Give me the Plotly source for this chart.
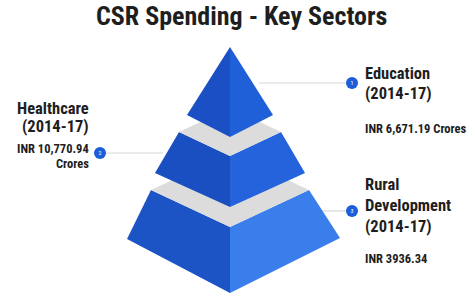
import plotly.graph_objects as go

# ---- data (text content) ----
title_text = "CSR Spending - Key Sectors"
sectors = ["Education", "Healthcare", "Rural Development"]
periods = ["(2014-17)", "(2014-17)", "(2014-17)"]
amounts = ["INR 6,671.19 Crores", "INR 10,770.94 Crores", "INR 3936.34"]
badge_numbers = ["1", "2", "3"]

# ---- geometry / style (decorative layout, pixel space) ----
W, H = 471, 295
FONT = "Roboto Condensed, Roboto, Arial, sans-serif"
TXT = "#1e1e1e"
GRAY = "#dcdcdc"
LINE = "#d8d8d8"
BADGE = "#1c5ed8"

apex = (230, 47)
tiers = [
    dict(top=None, bottom=[(187, 115), (230, 137), (273, 115)],
         cols=("#1b4fc4", "#1f5fd8")),
    dict(top=[(179, 132), (230, 156), (281, 132)],
         bottom=[(155, 173), (230, 207), (305, 173)],
         cols=("#1a4fc1", "#2463dc")),
    dict(top=[(151, 190), (230, 227), (309, 190)],
         bottom=[(127, 239), (230, 293), (340, 238)],
         cols=("#1c54c6", "#3a7eec")),
]

connectors = [
    dict(x0=259, x1=352, y=83, bx=352, by=83),
    dict(x0=100, x1=163, y=153, bx=100, by=153),
    dict(x0=322, x1=352, y=211, bx=352, by=211),
]

fig = go.Figure()

def poly(pts, color):
    xs = [p[0] for p in pts] + [pts[0][0]]
    ys = [p[1] for p in pts] + [pts[0][1]]
    fig.add_trace(go.Scatter(x=xs, y=ys, mode="lines", fill="toself",
                             fillcolor=color, line=dict(width=0, color=color),
                             hoverinfo="skip", showlegend=False))

for c in connectors:
    fig.add_trace(go.Scatter(x=[c["x0"], c["x1"]], y=[c["y"], c["y"]], mode="lines",
                             line=dict(color=LINE, width=1.2), hoverinfo="skip",
                             showlegend=False))

for t in reversed(tiers):
    bl, bf, br = t["bottom"]
    if t["top"] is None:
        poly([apex, bl, bf], t["cols"][0])
        poly([apex, bf, br], t["cols"][1])
    else:
        tl, tf, tr = t["top"]
        poly([tl, tf, bf, bl], t["cols"][0])
        poly([tf, tr, br, bf], t["cols"][1])
        back = (tf[0], 2 * tl[1] - tf[1])
        poly([tl, tf, tr, back], GRAY)

fig.add_trace(go.Scatter(x=[c["bx"] for c in connectors], y=[c["by"] for c in connectors],
                         mode="markers+text", text=badge_numbers,
                         textfont=dict(size=6, color="white", family=FONT),
                         textposition="middle center",
                         marker=dict(size=12, color=BADGE, line=dict(width=0)),
                         hoverinfo="skip", showlegend=False))

ann = []
def label(x, y, text, size, anchor):
    ann.append(dict(x=x, y=y, xref="x", yref="y", text=text, showarrow=False,
                    xanchor=anchor, yanchor="middle", xshift=(-3 if anchor == "left" else 3 if anchor == "right" else 0),
                    font=dict(family=FONT, size=size, color=TXT, weight="bold")))

label(241, 16, title_text, 26, "center")

BIG, SMALL = 16.5, 12.5
label(366, 73, sectors[0], BIG, "left")
label(366, 93, periods[0], BIG, "left")
label(366, 128, amounts[0], SMALL, "left")

hc_amt = amounts[1].split(" Crores")[0]
label(88, 108, sectors[1], BIG, "right")
label(88, 126, periods[1], BIG, "right")
label(88, 148, hc_amt, SMALL, "right")
label(88, 163, "Crores", SMALL, "right")

rw = sectors[2].split(" ")
label(366, 184, rw[0], BIG, "left")
label(366, 205, rw[1], BIG, "left")
label(366, 226, periods[2], BIG, "left")
label(366, 258, amounts[2], SMALL, "left")

fig.update_layout(
    width=W, height=H, margin=dict(l=0, r=0, t=0, b=0),
    paper_bgcolor="white", plot_bgcolor="white",
    xaxis=dict(range=[0, W], visible=False, fixedrange=True),
    yaxis=dict(range=[H, 0], visible=False, fixedrange=True),
    annotations=ann,
)
fig.write_html("out.html", config={"displayModeBar": False},
               post_script="document.body.style.margin='0';")
